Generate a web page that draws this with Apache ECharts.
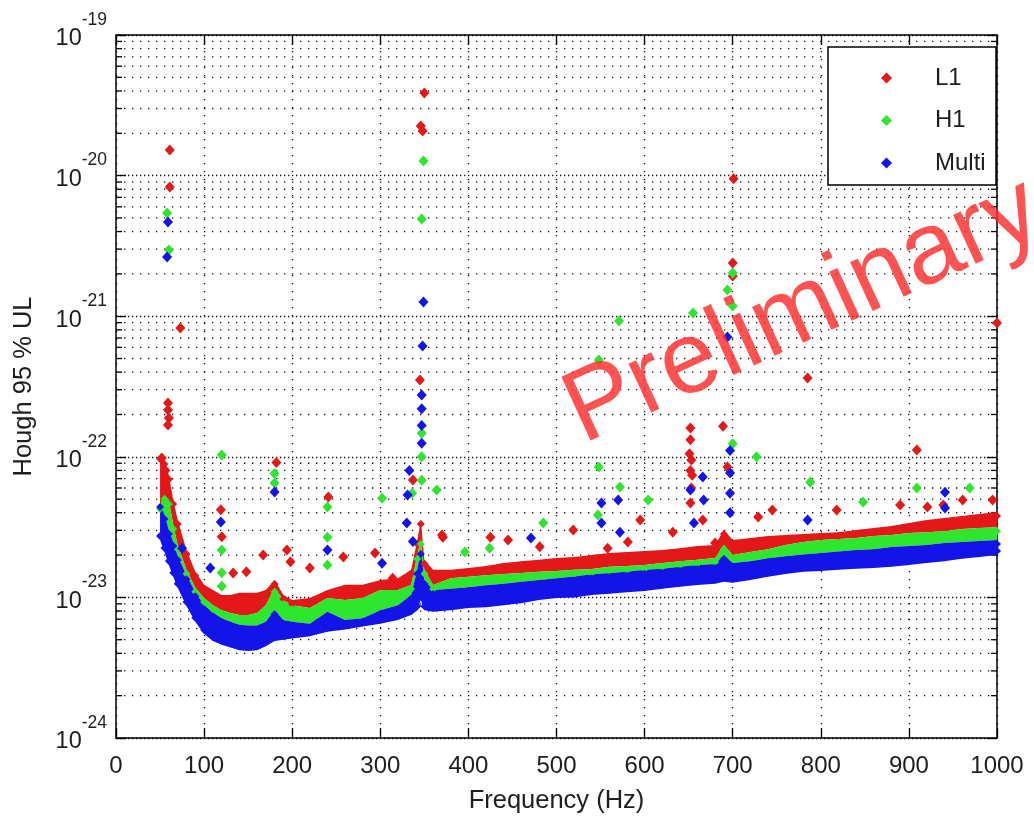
<!DOCTYPE html>
<html><head><meta charset="utf-8">
<script src="https://cdn.jsdelivr.net/npm/echarts@6/dist/echarts.min.js"></script>
<style>html,body{margin:0;padding:0;background:#fff}#c{width:1034px;height:817px}</style>
</head><body><div id="c"></div>
<script>
// All strain values are in units of 1e-24 (UNIT_EXP); the log axis runs from 10^0 to 10^5 of that unit.
const UNIT_EXP = -24;
const FREQ = [50,55,60,65,70,80,90,100,110,120,130,140,150,160,170,180,190,200,220,240,260,280,300,320,335,342,346,350,360,380,400,420,440,460,480,500,520,540,560,580,600,620,640,660,680,690,700,720,740,760,780,800,820,840,860,880,900,920,940,960,980,1000];
const L1_TOP = [103,95,74,49.3,35.5,21.7,15.2,12.3,11.3,10.4,10.4,10.8,10.8,10.8,11.3,13.3,10.4,9.6,9.9,11.3,12.3,12.3,13.3,13.7,15.7,25.6,35.5,18.5,15.7,15.7,16.2,16.7,17.6,18.1,18.5,19.1,19.4,20.0,20.7,21.0,21.4,21.7,22.4,23.2,23.6,30.2,25.6,26.4,27.3,27.8,28.3,28.7,29.1,30.2,31.1,32.2,33.8,35.5,36.7,37.9,39.2,40.5];
const H1_TOP = [45.4,53.5,49.3,32.7,23.6,15.7,11.7,9.9,8.8,8.1,7.75,7.5,7.5,7.75,8.8,11.7,9.6,8.8,8.4,9.9,9.6,9.9,11.3,11.3,12.25,20.0,25.6,15.7,12.25,13.7,14.0,14.4,14.7,14.9,15.2,15.4,15.7,15.9,16.5,16.7,17.0,17.6,18.1,18.5,19.1,23.6,20.0,21.0,22.0,23.6,24.8,25.6,26.0,26.4,27.3,27.8,28.7,29.1,29.6,30.6,31.1,31.6];
const MULTI_TOP = [46.9,38.6,30.2,24.8,19.7,14.4,10.9,8.8,7.8,7.1,6.7,6.4,6.3,6.3,6.7,8.1,6.9,6.7,6.5,7.9,6.9,7.1,8.1,8.8,10.4,15.7,21.7,13.3,11.3,11.5,11.8,12.2,12.5,12.9,13.3,13.7,14.1,14.6,14.9,15.2,15.7,16.0,16.5,17.0,17.3,20.0,17.6,18.1,19.0,19.6,20.2,20.7,21.2,21.7,22.0,22.8,23.2,23.6,24.4,24.8,25.2,25.6];
const MULTI_BOTTOM = [25.6,21.0,17.0,14.0,11.7,8.7,6.7,5.5,4.9,4.6,4.4,4.2,4.16,4.2,4.5,4.9,5.0,5.1,5.3,5.7,5.9,6.2,6.5,6.9,7.5,8.1,9.6,8.1,7.9,8.1,8.4,8.5,8.8,9.1,9.6,9.9,10.0,10.4,10.6,10.9,11.1,11.5,11.9,12.25,12.5,12.9,12.7,13.3,14.0,14.7,15.2,15.4,15.7,16.0,16.2,16.5,17.0,17.6,18.1,18.8,19.4,20.0];
const L1_PEAKS = [[61,15200],[61,8300],[73,824],[59,241],[59,215],[60,189],[59,168],[52,98],[56,80],[56,68],[119,42],[120,27],[182,91],[133,14.9],[148,15.2],[167,20.0],[194,21.7],[198,17.9],[220,16.2],[241,51.8],[258,19.4],[294,20.7],[314,13.7],[337,68.4],[370,27.8],[350,38700],[346,22500],[348,20800],[345,352],[701,9500],[700,2390],[700,1930],[1000,895],[785,363],[652,160],[652,132],[653,95],[652,80],[651,105],[653,60],[689,165],[909,112],[595,35.5],[371,26.8],[425,26.8],[445,25.6],[481,22.9],[519,30.2],[558,22.4],[581,24.8],[632,29.1],[652,46.9],[654,74],[694,84.7],[666,35.5],[680,24.4],[745,41.8],[729,37.3],[818,41.8],[890,45.4],[921,44],[939,45.4],[961,49.3],[995,49.3]];
const H1_PEAKS = [[58,5420],[60,2960],[120,103],[120,21.7],[120,15],[120,12],[180,76],[180,65],[240,43.9],[240,26.8],[240,17],[302,50.8],[336,55],[349,12700],[347,4910],[347,147],[347,100],[347,68],[364,58],[396,21.0],[424,22.4],[485,33.8],[548,488],[548,84.5],[547,38.6],[571,925],[572,61],[604,49.3],[655,1054],[700,2030],[694,1536],[700,1182],[700,124],[727,100],[788,66],[848,47.7],[909,60],[969,60]];
const MULTI_PEAKS = [[59,4680],[58,2636],[75,22.4],[107,16.2],[119,34.4],[180,56.2],[240,21.7],[302,17.5],[349,1262],[348,614],[347,275],[347,220],[347,167],[347,125],[333,80],[331,53.5],[330,33.8],[337,25],[471,26.4],[551,46.9],[551,33.8],[570,49.3],[572,29.1],[652,58],[656,33.8],[694,711],[697,111],[697,76.6],[697,55],[697,40],[941,56],[941,43.2],[785,35.5],[666,71.8],[667,49.3]];
const SERIES_NAMES = ['L1','H1','Multi'];
const X_MIN = 0, X_MAX = 1000, X_STEP = 100;
const Y_MIN = 1, Y_MAX = 1e5; // = 1e-24 .. 1e-19

const FONT = '"Liberation Sans", Arial, Helvetica, sans-serif';
const INK = '#1e1e1e';
const RED = '#e41818', GREEN = '#2ee62e', BLUE = '#1414e8';

const minorVals = [];
for (let d = 1; d < Y_MAX; d *= 10) for (let m = 2; m <= 9; m++) minorVals.push([0, m * d]);

const pts = (arr) => FREQ.map((f, i) => [f, arr[i]]);

function band(top, bottom, color) {
  return {
    type: 'custom', coordinateSystem: 'cartesian2d', silent: true, clip: true,
    data: [[500, 100]], encode: {x: 0, y: 1},
    renderItem(params, api) {
      const poly = [];
      for (let i = 0; i < FREQ.length; i++) poly.push(api.coord([FREQ[i], top[i]]));
      for (let i = FREQ.length - 1; i >= 0; i--) poly.push(api.coord([FREQ[i], bottom[i]]));
      return {type: 'polygon', shape: {points: poly}, style: {fill: color}};
    }
  };
}
function scat(name, data, color, size, offset) {
  return {type: 'scatter', name, data, symbol: 'diamond', symbolSize: size, symbolOffset: offset || [0, 0],
    itemStyle: {color, opacity: 1}, silent: true};
}

const chart = echarts.init(document.getElementById('c'), null, {renderer: 'canvas', width: 1034, height: 817});
const axisLine = {show: true, onZero: false, lineStyle: {color: '#000', width: 1.5}};
const tick = {show: true, inside: true, length: 10, lineStyle: {color: '#000', width: 1.3}};

chart.setOption({
  animation: false,
  backgroundColor: '#fff',
  grid: {left: 116, top: 35, right: 37, bottom: 79, containLabel: false, outerBoundsMode: 'none'},
  xAxis: [{
    type: 'value', min: X_MIN, max: X_MAX, interval: X_STEP, position: 'bottom',
    axisLine, axisTick: tick,
    axisLabel: {fontFamily: FONT, fontSize: 24, color: INK, margin: 16, formatter: v => String(v)},
    splitLine: {show: true, lineStyle: {color: '#111', width: 1.3, type: [1.3, 6.7]}},
    name: 'Frequency (Hz)', nameLocation: 'middle', nameGap: 50,
    nameTextStyle: {fontFamily: FONT, fontSize: 25.5, color: INK}
  }, {
    type: 'value', min: X_MIN, max: X_MAX, interval: X_STEP, position: 'top',
    axisLine, axisTick: tick, axisLabel: {show: false}, splitLine: {show: false}
  }],
  yAxis: [{
    type: 'log', logBase: 10, min: Y_MIN, max: Y_MAX, position: 'left',
    axisLine, axisTick: tick,
    axisLabel: {
      margin: 9, padding: [8, 0, 0, 0],
      formatter: v => '{b|10}{s|' + (Math.round(Math.log10(v)) + UNIT_EXP) + '}',
      rich: {
        b: {fontFamily: FONT, fontSize: 23.5, color: INK, lineHeight: 56, verticalAlign: 'middle'},
        s: {fontFamily: FONT, fontSize: 17.5, color: INK, lineHeight: 18, verticalAlign: 'top'}
      }
    },
    splitLine: {show: true, lineStyle: {color: '#111', width: 1.3, type: [1.3, 2.7]}},
    name: 'Hough 95 % UL', nameLocation: 'middle', nameGap: 79,
    nameTextStyle: {fontFamily: FONT, fontSize: 25.5, color: INK}
  }, {
    type: 'log', logBase: 10, min: Y_MIN, max: Y_MAX, position: 'right',
    axisLine, axisTick: tick, axisLabel: {show: false}, splitLine: {show: false}
  }],
  legend: {
    data: SERIES_NAMES, orient: 'vertical', left: 876, top: 61, itemWidth: 11, itemHeight: 11, itemGap: 18.5,
    icon: 'diamond', selectedMode: false, z: 10,
    formatter: n => '{g|}{t|' + n + '}',
    textStyle: {fontFamily: FONT, fontSize: 24, color: INK, lineHeight: 24,
      rich: {g: {width: 38}, t: {fontFamily: FONT, fontSize: 24, color: INK}}}
  },
  graphic: [
    {type: 'rect', z: 9, silent: true, shape: {x: 828, y: 47, width: 168, height: 138},
     style: {fill: '#fff', stroke: '#000', lineWidth: 1.5}},
    {type: 'text', z: 100, silent: true, x: 803, y: 312, rotation: 0.43,
     style: {text: 'Preliminary', fontSize: 102, fontFamily: FONT, fill: 'rgba(255,45,45,0.82)',
       align: 'center', verticalAlign: 'middle'}}
  ],
  series: [
    {type: 'custom', coordinateSystem: 'cartesian2d', silent: true, z: 1, clip: false,
     data: minorVals, encode: {x: 0, y: 1},
     renderItem(params, api) {
       const cs = params.coordSys;
       const y = api.coord([0, api.value(1)])[1];
       return {type: 'group', children: [
         {type: 'line', shape: {x1: cs.x, y1: y, x2: cs.x + cs.width, y2: y}, style: {stroke: '#111', lineWidth: 1.3, lineDash: [1.3, 6.7]}},
         {type: 'line', shape: {x1: cs.x, y1: y, x2: cs.x + 6, y2: y}, style: {stroke: '#000', lineWidth: 1.3}},
         {type: 'line', shape: {x1: cs.x + cs.width - 6, y1: y, x2: cs.x + cs.width, y2: y}, style: {stroke: '#000', lineWidth: 1.3}}
       ]};
     }},
    band(L1_TOP, H1_TOP, RED),
    scat('L1', pts(L1_TOP), RED, 8, [0, 4]),
    scat('L1', L1_PEAKS, RED, [10, 11]),
    band(H1_TOP, MULTI_TOP, GREEN),
    scat('H1', pts(H1_TOP), GREEN, 8, [0, 4]),
    scat('H1', H1_PEAKS, GREEN, [10, 11]),
    band(MULTI_TOP, MULTI_BOTTOM, BLUE),
    scat('Multi', pts(MULTI_TOP), BLUE, 8, [0, 4]),
    scat('Multi', pts(MULTI_BOTTOM), BLUE, 8, [0, -4]),
    scat('Multi', MULTI_PEAKS, BLUE, [10, 11])
  ]
});
</script>
</body></html>
